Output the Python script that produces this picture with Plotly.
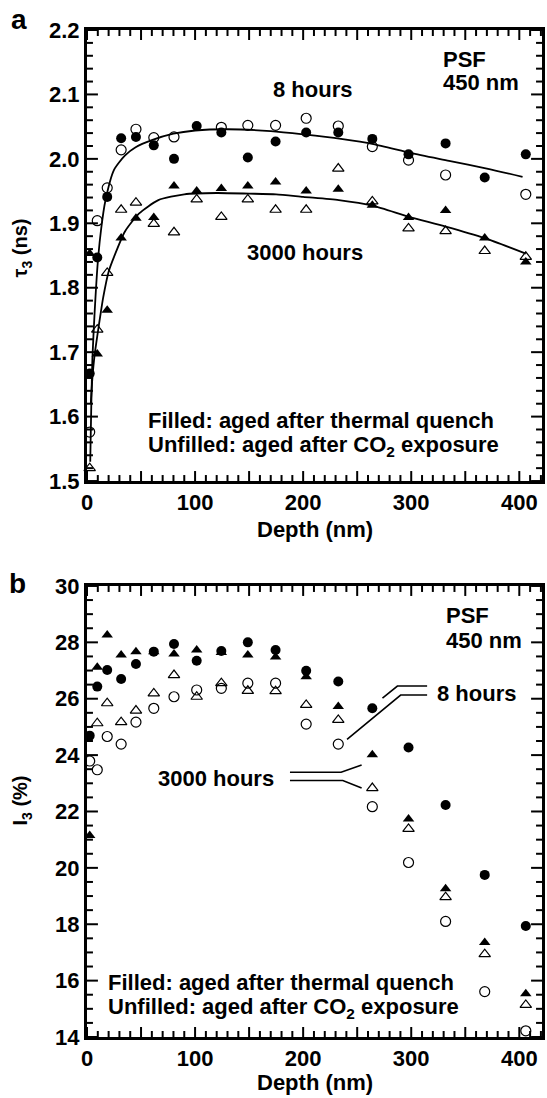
import plotly.graph_objects as go

# ---------------- data ----------------
depth = [2.5, 9.5, 18.7, 31.6, 45.3, 61.8, 80.5, 101.5, 124.3, 148.8, 174.5,
         202.8, 232.5, 264.0, 297.5, 331.8, 368.0, 406.0]

# panel a: tau3 (ns)
tau_8h_thermal = [1.667, 1.847, 1.941, 2.032, 2.034, 2.021, 2.000, 2.051, 2.041,
                  2.002, 2.027, 2.041, 2.041, 2.031, 2.007, 2.024, 1.971, 2.007]
tau_8h_co2 = [1.576, 1.904, 1.955, 2.014, 2.046, 2.033, 2.034, None, 2.049,
              2.052, 2.052, 2.063, 2.051, 2.019, 1.998, 1.975, None, 1.945]
tau_3000h_thermal = [1.853, 1.697, 1.765, 1.877, 1.908, 1.909, 1.958, 1.950, 1.954,
                     1.958, 1.964, 1.950, 1.953, 1.928, 1.909, 1.920, 1.877, 1.840]
tau_3000h_co2 = [1.520, 1.735, 1.823, 1.921, 1.932, 1.899, 1.886, 1.937, 1.910,
                 1.937, 1.921, 1.921, 1.985, 1.934, 1.892, 1.888, 1.857, 1.848]

fit_8h_depth = [3, 4, 5, 7, 10, 13, 17, 25, 35, 45, 60, 80, 100, 130, 170, 200,
                235, 265, 300, 335, 370, 403]
fit_8h_tau = [1.53, 1.62, 1.69, 1.76, 1.84, 1.89, 1.935, 1.983, 2.005, 2.018, 2.029,
              2.039, 2.044, 2.046, 2.043, 2.038, 2.031, 2.023, 2.009, 1.997, 1.985, 1.972]
fit_3000h_depth = [3.5, 5, 7, 11, 15, 20, 25, 35, 48, 66, 90, 120, 150, 175, 200,
                   233, 265, 298, 332, 368, 406]
fit_3000h_tau = [1.62, 1.66, 1.695, 1.742, 1.785, 1.825, 1.848, 1.887, 1.915, 1.936,
                 1.945, 1.947, 1.946, 1.945, 1.941, 1.936, 1.927, 1.910, 1.895, 1.877, 1.853]

# panel b: I3 (%)
i3_8h_thermal = [24.69, 26.43, 27.02, 26.70, 27.23, 27.67, 27.94, 27.35, 27.69,
                 28.00, 27.73, 26.99, 26.61, 25.66, 24.27, 22.23, 19.75, 17.94]
i3_8h_co2 = [23.79, 23.48, 24.66, 24.39, 25.17, 25.66, 26.07, 26.31, 26.37,
             26.55, 26.55, 25.10, 24.39, 22.17, 20.19, 18.10, 15.61, 14.22]
i3_3000h_thermal = [21.15, 27.12, 28.26, 27.55, 27.67, 27.67, 27.59, 27.73, 27.64,
                    27.55, 27.48, 26.78, 25.72, 24.01, 21.73, 19.26, 17.35, 15.53]
i3_3000h_co2 = [None, 25.13, 25.84, 25.17, 25.58, 26.19, 26.84, 26.07, 26.55,
                26.28, 26.27, 25.78, 25.25, 22.83, 21.38, 18.96, 16.94, 15.14]

x_range = [0, 421]
tau_range = [1.5, 2.2]
i3_range = [14, 30]
x_label_ticks = [0, 100, 200, 300, 400]
# tick spacing (major, minor) for each axis
x_steps = (50, 10)
tau_steps = (0.1, 0.02)
i3_steps = (2, 0.5)

# ---------------- figure geometry ----------------
W, H = 547, 1098
ML, MR, MT, MB = 87, 2, 30, 61
PLOT_W = W - ML - MR
PLOT_H_TOTAL = H - MT - MB
DOM_TOP = [0.5521, 1]
DOM_BOT = [0, 0.4479]
PANEL_H = (DOM_BOT[1] - DOM_BOT[0]) * PLOT_H_TOTAL

FONT = "Liberation Sans, Arial, sans-serif"
BF = dict(family=FONT, size=22, color="black", weight=700)

fig = go.Figure()

def markers(x, y, symbol, xa, ya, size):
    open_ = symbol.endswith("open")
    fig.add_trace(go.Scatter(
        x=x, y=y, mode="markers", xaxis=xa, yaxis=ya, cliponaxis=False,
        marker=dict(symbol=symbol, size=size, color="black",
                    line=dict(color="black", width=1.2 if open_ else 0)),
        hoverinfo="skip", showlegend=False))

# ---- tick marks on all four sides, drawn as line segments in data units ----
def tick_positions(lo, hi, steps):
    major, minor = steps
    n = int(round((hi - lo) / minor))
    ratio = int(round(major / minor))
    out = []
    for i in range(n + 1):
        v = round(lo + i * minor, 6)
        if v > hi + 1e-9:
            break
        out.append((v, i % ratio == 0))
    return out

def add_ticks(xa, ya, xr, yr, ysteps):
    xpp = (xr[1] - xr[0]) / PLOT_W       # data units per pixel (x)
    ypp = (yr[1] - yr[0]) / PANEL_H      # data units per pixel (y)
    xs, ys = [], []
    for v, big in tick_positions(xr[0], 420, x_steps):
        L = (10 if big else 6) * ypp
        xs += [v, v, None, v, v, None]
        ys += [yr[0], yr[0] + L, None, yr[1], yr[1] - L, None]
    for v, big in tick_positions(yr[0], yr[1], ysteps):
        L = (11 if big else 6) * xpp
        xs += [xr[0], xr[0] + L, None, xr[1], xr[1] - L, None]
        ys += [v, v, None, v, v, None]
    fig.add_trace(go.Scatter(x=xs, y=ys, mode="lines", xaxis=xa, yaxis=ya,
                             line=dict(color="black", width=2), cliponaxis=False,
                             connectgaps=False, hoverinfo="skip", showlegend=False))

add_ticks("x", "y", x_range, tau_range, tau_steps)
add_ticks("x2", "y2", x_range, i3_range, i3_steps)

# fit curves (panel a)
for fx, fy in [(fit_8h_depth, fit_8h_tau), (fit_3000h_depth, fit_3000h_tau)]:
    fig.add_trace(go.Scatter(x=fx, y=fy, mode="lines", xaxis="x", yaxis="y",
                             line=dict(color="black", width=1.8, shape="spline", smoothing=0.6),
                             hoverinfo="skip", showlegend=False))

markers(depth, tau_8h_co2, "circle-open", "x", "y", 10)
markers(depth, tau_3000h_co2, "triangle-up-open", "x", "y", 10)
markers(depth, tau_8h_thermal, "circle", "x", "y", 10)
markers(depth, tau_3000h_thermal, "triangle-up", "x", "y", 10)

markers(depth, i3_8h_co2, "circle-open", "x2", "y2", 10)
markers(depth, i3_3000h_co2, "triangle-up-open", "x2", "y2", 10)
markers(depth, i3_8h_thermal, "circle", "x2", "y2", 10)
markers(depth, i3_3000h_thermal, "triangle-up", "x2", "y2", 10)

axis_common = dict(showline=True, linecolor="black", linewidth=3, mirror=True,
                   ticks="", showgrid=False, zeroline=False, tickfont=BF)

fig.update_layout(
    xaxis=dict(axis_common, range=x_range, tickvals=x_label_ticks, anchor="y"),
    yaxis=dict(axis_common, range=tau_range, dtick=0.1, tick0=1.5, tickformat=".1f",
               domain=DOM_TOP, anchor="x"),
    xaxis2=dict(axis_common, range=x_range, tickvals=x_label_ticks, anchor="y2"),
    yaxis2=dict(axis_common, range=i3_range, dtick=2, tick0=14,
                domain=DOM_BOT, anchor="x2"),
)

ann = []
def txt(x, y, s, xref="x", yref="y", xanchor="left", size=22, angle=0):
    ann.append(dict(x=x, y=y, xref=xref, yref=yref, text=s, showarrow=False,
                    xanchor=xanchor, yanchor="middle", textangle=angle,
                    font=dict(family=FONT, size=size, color="black", weight=700)))

# panel a texts
txt(170, 2.107, "8 hours")
txt(328, 2.155, "PSF")
txt(328, 2.118, "450 nm")
txt(146, 1.854, "3000 hours")
txt(55, 1.594, "Filled: aged after thermal quench")
txt(55, 1.554, "Unfilled: aged after CO<sub>2</sub> exposure")

# panel b texts
txt(330, 28.97, "PSF", "x2", "y2")
txt(330, 28.05, "450 nm", "x2", "y2")
txt(322, 26.2, "8 hours", "x2", "y2")
txt(64, 23.18, "3000 hours", "x2", "y2")
txt(18, 15.95, "Filled: aged after thermal quench", "x2", "y2")
txt(18, 15.02, "Unfilled: aged after CO<sub>2</sub> exposure", "x2", "y2")

# axis titles & panel letters
txt(0.501, 0.5035, "Depth (nm)", "paper", "paper", "center")
txt(0.501, -0.045, "Depth (nm)", "paper", "paper", "center")
txt(-0.144, 0.7835, "τ<sub>3</sub> (ns)", "paper", "paper", "center", 20, -90)
txt(-0.144, 0.2353, "I<sub>3</sub> (%)", "paper", "paper", "center", 20, -90)
txt(-0.1485, 1.010, "a", "paper", "paper", "center", 28)
txt(-0.152, 0.4505, "b", "paper", "paper", "center", 28)

# leader lines (panel b)
shapes = []
for px, py in [([314.7, 287.2, 273.4], [26.45, 26.45, 26.02]),
               ([314.7, 290.2, 240.6], [26.13, 26.13, 24.56]),
               ([187.8, 235.1, 254.1], [23.39, 23.39, 23.65]),
               ([187.8, 236.7, 254.1], [23.10, 23.10, 22.83])]:
    path = "M {} {} L {} {} L {} {}".format(px[0], py[0], px[1], py[1], px[2], py[2])
    shapes.append(dict(type="path", path=path, xref="x2", yref="y2",
                       line=dict(color="black", width=1.6)))

fig.update_layout(
    annotations=ann, shapes=shapes,
    width=W, height=H,
    margin=dict(l=ML, r=MR, t=MT, b=MB),
    paper_bgcolor="white", plot_bgcolor="white",
    showlegend=False,
)

fig.write_html("out.html")
